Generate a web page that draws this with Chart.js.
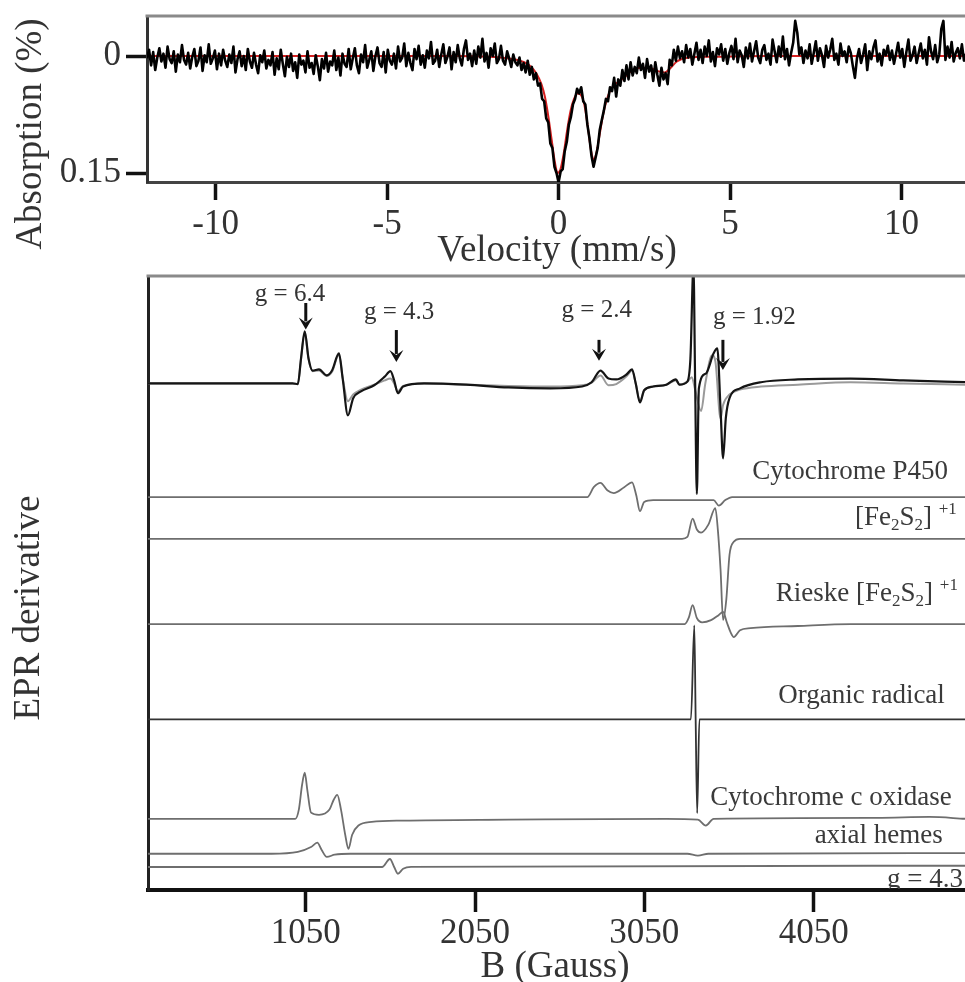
<!DOCTYPE html>
<html><head><meta charset="utf-8">
<script src="https://cdn.jsdelivr.net/npm/chart.js@4.4.1/dist/chart.umd.min.js"></script>
<style>
html,body{margin:0;padding:0;background:#fff;overflow:hidden;}
#wrap{position:relative;width:965px;height:982px;}
canvas{position:absolute;left:0;}
#moss{top:0}
#epr{top:270px}
</style></head><body>
<div id="wrap">
<canvas id="moss" width="965" height="270"></canvas>
<canvas id="epr" width="965" height="712"></canvas>
</div>
<script>
const FONT = '"Liberation Serif", "Times New Roman", serif';

/* ---------- Mössbauer spectrum (top) ---------- */
const velocityStart = -12, velocityStep = 0.06;   // channel calibration (mm/s)
// measured absorption, in units of 0.001 %
const absorptionMilli = [
 3,-8,12,-5,18,2,-10,7,-3,15,-12,4,9,-6,20,-2,8,-14,5,11,
 -4,16,1,-9,13,6,-11,19,-1,8,-15,10,3,-7,17,-3,12,-8,6,14,
 -2,9,-12,21,4,-6,13,0,18,-9,7,15,-4,11,22,-1,8,-7,16,5,
 12,-5,24,3,17,-8,10,26,1,14,-3,19,8,28,-2,11,6,21,-6,15,
 9,23,-1,13,31,4,16,-4,20,7,12,-7,18,2,25,-3,10,14,-9,17,
 3,-10,12,22,-2,8,-14,15,5,-6,19,0,-11,9,14,-5,21,-8,6,11,
 -3,16,-12,7,2,-16,13,-4,9,18,-9,4,-13,11,-1,15,-7,3,-18,10,
 6,-8,14,-2,-15,9,1,-11,17,-5,8,-14,3,12,-9,-20,5,-3,13,-7,
 10,-12,2,-22,7,-4,15,-10,0,-16,9,4,-13,6,11,-6,3,14,-2,8,
 12,2,18,9,21,6,24,14,30,22,38,35,55,58,80,85,112,118,142,150,
 162,148,145,122,110,88,78,62,55,42,48,40,58,62,88,105,128,142,130,118,
 95,82,70,55,58,40,45,28,52,30,38,18,32,12,30,8,25,14,22,2,
 18,10,28,4,20,12,32,8,24,38,15,30,22,36,5,12,-8,6,-12,3,
 -6,8,-14,2,-9,11,-3,-17,5,-8,9,-12,0,-20,7,-5,13,-10,-2,-15,
 6,-9,10,-4,-13,4,-22,8,-7,-1,14,-11,3,-16,7,-6,-19,2,9,-8,
 -14,5,-3,11,-21,-6,8,-12,1,-25,4,-9,12,-4,-17,-45,-30,-2,-11,9,
 -7,3,-15,10,-4,-19,6,-10,-1,14,-13,2,-8,-22,5,-3,11,-16,0,-6,
 8,-12,-4,13,28,3,-9,9,-2,-15,18,-6,4,-11,-20,7,-3,12,-8,-1,
 -13,5,-7,10,-3,-17,2,-9,14,-5,-21,6,-1,-12,9,-4,-16,3,-8,11,
 -24,-6,4,-14,8,-2,-35,-45,5,-12,2,-18,7,-4,-10,3,-15,6,-3,-8
];
// fitted curve (red)
const fitVelocity   = [-12,-3,-2,-1.5,-1.2,-1.0,-0.8,-0.65,-0.5,-0.4,-0.3,-0.2,-0.1,-0.03,0.05,0.15,0.25,0.35,0.45,0.55,0.65,0.75,0.85,0.95,1.02,1.1,1.2,1.3,1.45,1.6,1.75,1.9,2.1,2.4,2.7,2.95,3.1,3.25,3.45,3.8,4.5,6,11.85];
const fitAbsorption = [0,0,0.001,0.003,0.005,0.008,0.014,0.022,0.036,0.052,0.077,0.108,0.138,0.15,0.146,0.125,0.095,0.07,0.055,0.048,0.05,0.062,0.09,0.122,0.133,0.125,0.1,0.075,0.05,0.038,0.033,0.028,0.02,0.015,0.016,0.02,0.021,0.016,0.007,0.002,0.001,0,0];
const velocityTicks = [-10,-5,0,5,10];
const absorptionTicks = [0, 0.15];

/* ---------- EPR spectra (bottom) ---------- */
const fieldTicks = [1050,2050,3050,4050];
// experimental (black)
const expBlackField = [118,972,1003,1022,1044,1066,1090,1128,1174,1205,1246,1268,1299,1330,1376,1454,1516,1550,1572,1594,1625,1749,1998,2247,2496,2682,2738,2791,2838,2884,2946,2977,2999,3024,3049,3102,3180,3236,3257,3304,3322,3340,3350,3360,3372,3413,3459,3481,3500,3515,3531,3553,3615,3739,3957,4268,4579,4944];
const expBlackSignal = [0,0,-0.1,4.1,8.5,4.1,2.1,2.3,1.3,2.1,4.9,0.8,-5.2,-2.4,-1.3,-0.3,1.1,2.0,0.5,-1.6,-0.5,0,-0.2,-0.65,-0.8,-0.5,0.2,2.1,0.8,0.65,1.5,2.3,0,-3.1,-1.1,-0.5,-0.2,0.65,-0.2,0.3,4,19,0,-18,-0.8,1.6,4.9,5.7,-4.1,-12.2,-5.7,-2.4,-0.8,0.2,0.65,0.8,0.5,0.2];
// experimental (grey)
const expGreyField = [118,972,1003,1022,1044,1066,1090,1128,1174,1205,1246,1268,1299,1330,1376,1454,1516,1550,1572,1594,1625,1749,1998,2247,2496,2682,2738,2791,2838,2884,2946,2977,2999,3024,3049,3102,3180,3236,3257,3304,3330,3350,3385,3410,3450,3470,3500,3515,3553,3615,3739,3957,4268,4579,4944];
const expGreySignal = [0,0,-0.1,4.0,8.3,4.0,2.0,2.1,1.2,1.9,4.7,0.9,-2.9,-1.8,-1.0,-0.2,0.5,0.8,0.0,-1.3,-0.4,0,-0.2,-0.4,-0.5,-0.3,0.1,1.3,-0.3,-0.1,1.2,2.1,0,-2.9,-1.1,-0.5,-0.2,0.5,-0.2,0.3,1.0,-1,-4.5,0,4.6,3.5,-5.7,-3.5,-1.8,-1.0,-0.5,-0.2,0.2,0.0,-0.2];
// Cytochrome P450
const p450Field  = [118,2713,2751,2791,2831,2869,2931,2977,3002,3024,3049,3102,3459,3490,3528,3568,4944];
const p450Signal = [0,0,1.6,2.3,1.1,0.65,1.6,2.4,0.3,-2.3,-0.8,-0.5,-0.5,-1.4,-0.5,0,0];
// [Fe2S2]+1
const fesField  = [118,3273,3304,3335,3360,3385,3428,3469,3484,3500,3515,3534,3553,3578,3615,4944];
const fesSignal = [0,0,0.3,3.3,1.5,1.0,2.3,5.0,1.5,-5.0,-13.2,-9.9,-2.6,-0.5,0,0];
// Rieske [Fe2S2]+1
const rieskeField  = [118,3288,3313,3335,3360,3391,3444,3490,3515,3537,3559,3578,3615,3677,3957,4268,4944];
const rieskeSignal = [0,0,1.1,3.1,1.0,0.3,0.65,1.5,2.0,0.3,-1.3,-2.1,-1.0,-0.65,-0.3,0,0];
// Organic radical
const radicalField  = [118,3325,3345,3353,3362,3375,4944];
const radicalSignal = [0,0,15.3,0,-15.3,0,0];
// Cytochrome c oxidase
const ccoField  = [118,988,1009,1028,1044,1059,1081,1128,1190,1215,1236,1258,1283,1302,1324,1361,1439,1625,2247,3180,3366,3413,3459,4423,4734,4944];
const ccoSignal = [0,0,1.5,5.5,7.5,4.7,1.0,0.65,1.5,3.1,3.9,1.5,-2.6,-4.9,-2.6,-1.1,-0.5,-0.3,-0.15,0,-0.15,-1.1,0,0.15,0.3,0];
// axial hemes
const axialField  = [118,848,1003,1081,1118,1143,1174,1221,1314,3304,3366,3428,4944];
const axialSignal = [0,0,0.3,1.1,1.8,0.65,-0.5,-0.15,0,0,-0.3,0,0.1];
// g = 4.3 (rhombic iron)
const g43Field  = [118,1501,1547,1572,1594,1625,1672,4944];
const g43Signal = [0,0,1.3,0,-1.1,-0.3,0,0.2];

// vertical stacking offsets of the traces (arbitrary units, 0-100 frame)
const stackOffset = {exp:82.5, p450:64.0, fes:57.2, rieske:43.3, radical:27.8, cco:11.6, axial:5.9, g43:3.75};

function xy(fields, values, offset){ return fields.map((b,i)=>({x:b, y:values[i]+offset})); }

/* ---------- helpers ---------- */
function drawRich(ctx, parts, x, y, align, size, color){
  const specs = parts.map(([t,k])=>{
    const s = k==='n'? size : Math.round(size*0.62);
    ctx.font = s+'px '+FONT;
    return {t,k,s,w:ctx.measureText(t).width};
  });
  const total = specs.reduce((a,p)=>a+p.w,0);
  let cx = align==='right'? x-total : (align==='center'? x-total/2 : x);
  ctx.fillStyle = color; ctx.textAlign='left'; ctx.textBaseline='middle';
  specs.forEach(p=>{
    ctx.font = p.s+'px '+FONT;
    let dy = 0;
    if (p.k==='sub') dy = size*0.28;
    if (p.k==='sup') dy = -size*0.32;
    ctx.fillText(p.t, cx, y+dy);
    cx += p.w;
  });
}
function noEdgePadding(s){ s.paddingTop = 0; s.paddingBottom = 0; s.paddingLeft = 0; s.paddingRight = 0; }

/* ---------- Mössbauer chart ---------- */
const mossPlugin = {
  id:'mossDecor',
  afterDraw(chart){
    const ctx = chart.ctx, a = chart.chartArea;
    ctx.save();
    ctx.strokeStyle = '#8a8a8a'; ctx.lineWidth = 3;
    ctx.beginPath(); ctx.moveTo(a.left-1.5, a.top); ctx.lineTo(a.right, a.top); ctx.stroke();
    ctx.fillStyle = '#333';
    ctx.font = '37px '+FONT; ctx.textAlign='center'; ctx.textBaseline='middle';
    ctx.fillText('Velocity (mm/s)', 557, 251);
    ctx.translate(31, 134); ctx.rotate(-Math.PI/2);
    ctx.fillText('Absorption (%)', 0, 0);
    ctx.restore();
  }
};
new Chart(document.getElementById('moss'), {
  type:'line',
  data:{ datasets:[
    { data: absorptionMilli.map((v,i)=>({x: velocityStart + i*velocityStep, y: v/1000})), borderColor:'#000', borderWidth:2.6, borderJoinStyle:'round', pointRadius:0, tension:0 },
    { data: xy(fitVelocity, fitAbsorption, 0), borderColor:'#d42020', borderWidth:2, pointRadius:0, cubicInterpolationMode:'monotone' }
  ]},
  options:{
    responsive:false, animation:false, devicePixelRatio:1,
    layout:{padding:{top:16,left:0,right:0,bottom:0}},
    plugins:{legend:{display:false}, tooltip:{enabled:false}},
    scales:{
      x:{ type:'linear', min:-12, max:11.85,
        afterFit(s){ s.height = 88; noEdgePadding(s); },
        afterBuildTicks(s){ s.ticks = velocityTicks.map(v=>({value:v})); },
        ticks:{ font:{family:FONT, size:35}, color:'#333', padding:4, maxRotation:0, callback:v=>String(v) },
        grid:{ drawOnChartArea:false, drawTicks:true, tickLength:18, tickWidth:3.5, tickColor:'#111' },
        border:{ display:true, color:'#444', width:3 }
      },
      y:{ type:'linear', reverse:true, min:-0.0513, max:0.1615,
        afterFit(s){ s.width = 147; noEdgePadding(s); },
        afterBuildTicks(s){ s.ticks = absorptionTicks.map(v=>({value:v})); },
        ticks:{ font:{family:FONT, size:35}, color:'#333', padding:5, callback:v=>String(v) },
        grid:{ drawOnChartArea:false, drawTicks:true, tickLength:21, tickWidth:3.5, tickColor:'#111' },
        border:{ display:true, color:'#333', width:3 }
      }
    }
  },
  plugins:[mossPlugin]
});

/* ---------- EPR chart ---------- */
const gLabels = [
  {text:'g = 6.4',  B:957,  y:97.0},
  {text:'g = 4.3',  B:1601, y:94.1},
  {text:'g = 2.4',  B:2769, y:94.4},
  {text:'g = 1.92', B:3700, y:93.2}
];
const gArrows = [
  {B:1050, y0:95.6, y1:91.3},
  {B:1585, y0:91.2, y1:86.0},
  {B:2782, y0:89.6, y1:86.2},
  {B:3514, y0:89.6, y1:84.7}
];
const traceLabels = [
  {parts:[['Cytochrome P450','n']], B:4843, y:68.1},
  {parts:[['[Fe','n'],['2','sub'],['S','n'],['2','sub'],[']','n'],[' ','n'],['+1','sup']], B:4896, y:60.6},
  {parts:[['Rieske [Fe','n'],['2','sub'],['S','n'],['2','sub'],[']','n'],[' ','n'],['+1','sup']], B:4902, y:48.2},
  {parts:[['Organic radical','n']], B:4825, y:31.6},
  {parts:[['Cytochrome c oxidase','n']], B:4866, y:15.0},
  {parts:[['axial hemes','n']], B:4813, y:8.8}
];
const eprPlugin = {
  id:'eprDecor',
  afterDraw(chart){
    const ctx = chart.ctx, a = chart.chartArea, sx = chart.scales.x, sy = chart.scales.y;
    ctx.save();
    ctx.strokeStyle = '#8a8a8a'; ctx.lineWidth = 3;
    ctx.beginPath(); ctx.moveTo(a.left-1.5, a.top); ctx.lineTo(a.right, a.top); ctx.stroke();
    // g labels
    ctx.fillStyle = '#333'; ctx.font = '25px '+FONT; ctx.textAlign='center'; ctx.textBaseline='middle';
    gLabels.forEach(l=>ctx.fillText(l.text, sx.getPixelForValue(l.B), sy.getPixelForValue(l.y)));
    // arrows
    ctx.strokeStyle = '#111'; ctx.fillStyle = '#111'; ctx.lineWidth = 3;
    gArrows.forEach(r=>{
      const x = sx.getPixelForValue(r.B), y0 = sy.getPixelForValue(r.y0), y1 = sy.getPixelForValue(r.y1);
      ctx.beginPath(); ctx.moveTo(x, y0); ctx.lineTo(x, y1-8); ctx.stroke();
      ctx.beginPath(); ctx.moveTo(x-7, y1-12); ctx.lineTo(x, y1); ctx.lineTo(x+7, y1-12); ctx.lineTo(x, y1-7); ctx.closePath(); ctx.fill();
    });
    // trace labels
    traceLabels.forEach(l=>drawRich(ctx, l.parts, sx.getPixelForValue(l.B), sy.getPixelForValue(l.y), 'right', 27, '#3a3a3a'));
    // g = 4.3 label, clipped by the frame
    ctx.save();
    ctx.beginPath(); ctx.rect(a.left, a.top, a.right-a.left, a.bottom-a.top-1); ctx.clip();
    drawRich(ctx, [['g = 4.3','n']], sx.getPixelForValue(4483), sy.getPixelForValue(1.7), 'left', 27, '#3a3a3a');
    ctx.restore();
    // axis titles
    ctx.fillStyle = '#333'; ctx.font = '37px '+FONT; ctx.textAlign='center'; ctx.textBaseline='middle';
    ctx.fillText('B (Gauss)', 555, 697);
    ctx.translate(29, 338); ctx.rotate(-Math.PI/2);
    ctx.fillText('EPR derivative', 0, 0);
    ctx.restore();
  }
};
const compStyle = {borderColor:'#6e6e6e', borderWidth:1.8, pointRadius:0, cubicInterpolationMode:'monotone'};
new Chart(document.getElementById('epr'), {
  type:'line',
  data:{ datasets:[
    Object.assign({data: xy(expBlackField, expBlackSignal, stackOffset.exp)}, {borderColor:'#151515', borderWidth:2.2, pointRadius:0, cubicInterpolationMode:'monotone'}),
    Object.assign({data: xy(expGreyField, expGreySignal, stackOffset.exp)}, {borderColor:'#9a9a9a', borderWidth:2, pointRadius:0, cubicInterpolationMode:'monotone'}),
    Object.assign({data: xy(p450Field, p450Signal, stackOffset.p450)}, compStyle),
    Object.assign({data: xy(fesField, fesSignal, stackOffset.fes)}, compStyle),
    Object.assign({data: xy(rieskeField, rieskeSignal, stackOffset.rieske)}, compStyle),
    Object.assign({data: xy(radicalField, radicalSignal, stackOffset.radical)}, compStyle, {borderColor:'#333'}),
    Object.assign({data: xy(ccoField, ccoSignal, stackOffset.cco)}, compStyle),
    Object.assign({data: xy(axialField, axialSignal, stackOffset.axial)}, compStyle),
    Object.assign({data: xy(g43Field, g43Signal, stackOffset.g43)}, compStyle)
  ]},
  options:{
    responsive:false, animation:false, devicePixelRatio:1,
    layout:{padding:{top:6,left:0,right:0,bottom:0}},
    plugins:{legend:{display:false}, tooltip:{enabled:false}},
    scales:{
      x:{ type:'linear', min:118, max:4944,
        afterFit(s){ s.height = 92; noEdgePadding(s); },
        afterBuildTicks(s){ s.ticks = fieldTicks.map(v=>({value:v})); },
        ticks:{ font:{family:FONT, size:35}, color:'#333', padding:1, maxRotation:0, callback:v=>String(v) },
        grid:{ drawOnChartArea:false, drawTicks:true, tickLength:22, tickWidth:3.5, tickColor:'#111' },
        border:{ display:true, color:'#111', width:4 }
      },
      y:{ type:'linear', min:0, max:100,
        afterFit(s){ s.width = 148; noEdgePadding(s); },
        ticks:{ display:false },
        grid:{ display:false, drawTicks:false },
        border:{ display:true, color:'#222', width:3 }
      }
    }
  },
  plugins:[eprPlugin]
});
</script>
</body></html>
